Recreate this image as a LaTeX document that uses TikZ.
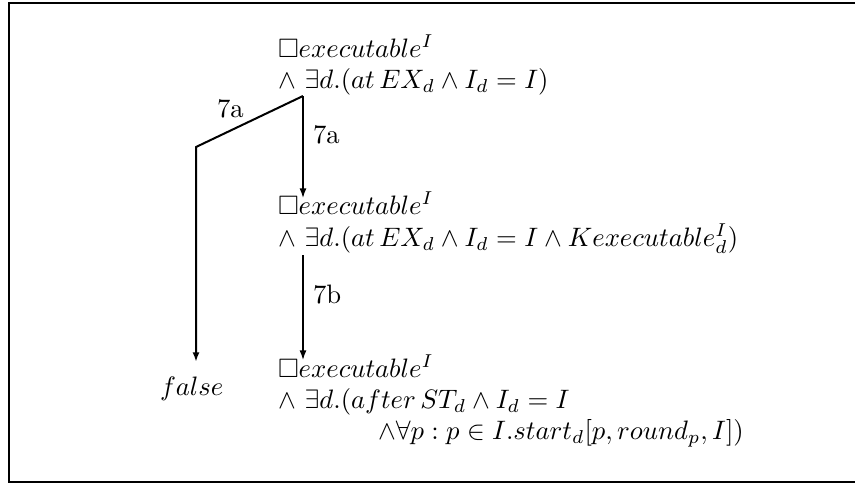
\documentclass[tikz,border=0pt]{standalone}
\usepackage{amssymb}
\usetikzlibrary{arrows.meta}
\begin{document}
\begin{tikzpicture}[x=0.375pt,y=-0.375pt,
  every node/.style={inner sep=0pt,outer sep=0pt,font=\fontsize{10}{12}\selectfont},
  ln/.style={anchor=base west},
  lbl/.style={anchor=base west},
  arr/.style={line width=0.5pt,-{Latex[length=3.6pt,width=2.6pt]}},
  arrthick/.style={line width=0.75pt,-{Latex[length=3.6pt,width=2.6pt]}}]
\useasboundingbox (0,0) rectangle (855,486);
\draw[line width=1.1pt] (870,3) -- (9,3) -- (9,482) -- (870,482);
% formulas
\node[ln] (n1a) at (278,57) {$\Box executable^{I}$};
\node[ln] (n1b) at (278,88) {$\wedge\ \exists d.(at\,EX_d\wedge I_d=I)$};
\node[ln] (n2a) at (278,214) {$\Box executable^{I}$};
\node[ln] (n2b) at (278,246) {$\wedge\ \exists d.(at\,EX_d\wedge I_d=I\wedge K executable^{I}_{d})$};
\node[ln] (n3a) at (278,377) {$\Box executable^{I}$};
\node[ln] (n3b) at (278,408) {$\wedge\ \exists d.(after\,ST_d\wedge I_d=I$};
\node[ln] (n3c) at (378,439) {$\wedge\forall p:p\in I.start_d[p,round_p,I])$};
\node[ln] (f) at (160,395) {$false$};
% connector points
\coordinate (j) at (303,96);
\coordinate (k) at (196,147);
\coordinate (t1) at (303,198);
\coordinate (s2) at (303,255);
\coordinate (t2) at (303,360);
\coordinate (tf) at (196,362);
\draw[arr] (j) -- (t1);
\draw[arrthick] (j) -- (k) -- (tf);
\draw[arr] (s2) -- (t2);
% labels
\node[lbl] (l1) at (217,117) {7a};
\node[lbl] (l2) at (313,143) {7a};
\node[lbl] (l3) at (313,303) {7b};
\end{tikzpicture}
\end{document}
